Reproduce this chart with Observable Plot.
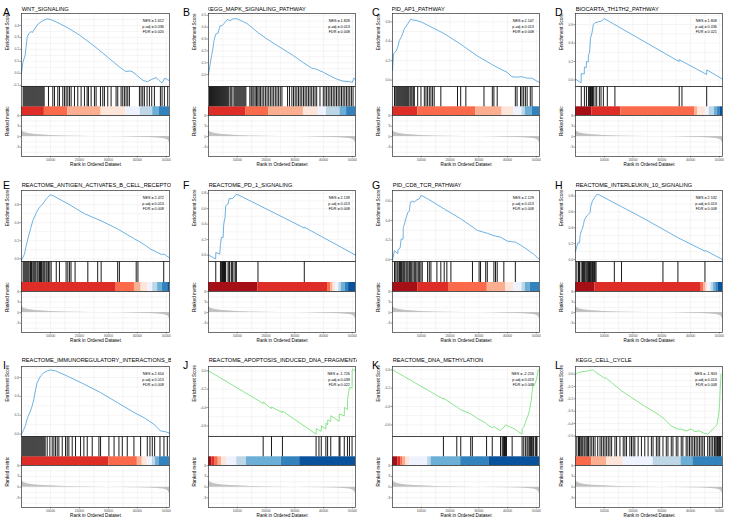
<!DOCTYPE html>
<html>
<head>
<meta charset="utf-8">
<script src="https://cdn.jsdelivr.net/npm/d3@7"></script>
<script src="https://cdn.jsdelivr.net/npm/@observablehq/plot@0.6"></script>
<style>
html,body{margin:0;padding:0;background:#fff;}
#root{position:relative;width:729px;height:523px;overflow:hidden;background:#fff;font-family:"Liberation Sans",Arial,Helvetica,sans-serif;}
.letter{position:absolute;font-size:10.5px;line-height:10.5px;color:#000;}
.ttl{position:absolute;height:8px;overflow:hidden;font-size:5.7px;line-height:8px;white-space:nowrap;color:#000;}
</style>
</head>
<body>
<div id="root"></div>
<script>
// ---------------- DATA ----------------
const letters = ["A","B","C","D","E","F","G","H","I","J","K","L"];
const titles = ["WNT_SIGNALING","KEGG_MAPK_SIGNALING_PATHWAY","PID_AP1_PATHWAY","BIOCARTA_TH1TH2_PATHWAY",
  "REACTOME_ANTIGEN_ACTIVATES_B_CELL_RECEPTOR","REACTOME_PD_1_SIGNALING","PID_CD8_TCR_PATHWAY","REACTOME_INTERLEUKIN_10_SIGNALING",
  "REACTOME_IMMUNOREGULATORY_INTERACTIONS_BE","REACTOME_APOPTOSIS_INDUCED_DNA_FRAGMENTA","REACTOME_DNA_METHYLATION","KEGG_CELL_CYCLE"];
const nes  = ["1.612","1.828","2.147","1.808","2.472","2.139","2.129","2.532","2.654","-1.726","-2.216","-1.903"];
const padj = ["0.036","0.013","0.013","0.036","0.013","0.013","0.013","0.013","0.013","0.039","0.013","0.013"];
const fdr  = ["0.020","0.008","0.008","0.021","0.008","0.008","0.008","0.008","0.008","0.022","0.008","0.008"];

const rankTicks = [10000, 20000, 30000, 40000, 50000];
const rankDomain = [0, 51100];
const metricTicks = [-3, 0, 3, 6];
const metricDomain = [-5.7, 6.05];

const esTicks = [
  [-0.1,0,0.1,0.2,0.3,0.4],[0,0.1,0.2,0.3,0.4,0.5],[0,0.2,0.4,0.6],[0,0.2,0.4,0.6],
  [0,0.2,0.4,0.6],[0,0.2,0.4,0.6,0.8],[0,0.2,0.4,0.6],[0,0.2,0.4,0.6,0.8],
  [0,0.2,0.4,0.6],[-0.6,-0.4,-0.2,0],[-0.6,-0.4,-0.2,0],[-0.5,-0.4,-0.3,-0.2,-0.1,0]
];
const esDomains = [
  [-0.11,0.5],[-0.1,0.515],[-0.066,0.686],[-0.07,0.72],
  [-0.03,0.756],[-0.083,0.835],[-0.02,0.71],[-0.025,0.87],
  [-0.025,0.716],[-0.716,0.047],[-0.727,0.036],[-0.505,0.062]
];

// ranked list metric (shared by all panels): [rank, metric]
const metric = [[0,2.0],[300,1.6],[1000,1.2],[2000,0.95],[3500,0.75],[5000,0.6],[7500,0.45],[10000,0.35],[15000,0.2],[20000,0.12],[25000,0.05],[30000,0.0],[35000,-0.07],[40000,-0.15],[44000,-0.25],[47000,-0.38],[49000,-0.55],[50000,-0.75],[50600,-1.0],[50900,-1.4],[51100,-1.8]];

// running enrichment score: [rank, ES]
const esA = [[0,0],[460,0.09],[1260,0.15],[1950,0.30],[2500,0.33],[3330,0.35],[3700,0.34],[4480,0.37],[5630,0.41],[7360,0.44],[8850,0.455],[10000,0.45],[12000,0.43],[16000,0.38],[20000,0.32],[25000,0.23],[30000,0.13],[34000,0.05],[36000,0.015],[37500,0.02],[38500,0.01],[40000,-0.02],[42000,-0.06],[43500,-0.07],[45000,-0.05],[46500,-0.035],[47500,-0.06],[48500,-0.08],[49500,-0.04],[50500,-0.055],[51100,-0.06]];
const esB = [[0,0],[580,0.09],[1380,0.2],[1950,0.29],[2500,0.34],[3300,0.35],[4000,0.41],[4830,0.415],[5400,0.43],[6550,0.465],[7470,0.455],[8500,0.47],[10000,0.47],[13400,0.43],[16900,0.36],[20300,0.30],[24900,0.23],[29500,0.16],[33000,0.10],[35900,0.055],[37600,0.045],[39900,0.02],[42200,-0.01],[44500,-0.037],[46800,-0.055],[49100,-0.06],[50000,-0.065],[50500,-0.03],[51100,-0.04]];
const esC = [[0,0.1],[350,0.27],[1270,0.30],[1840,0.34],[2400,0.41],[3000,0.44],[3560,0.48],[4140,0.53],[5300,0.58],[6440,0.63],[7000,0.62],[8160,0.615],[9900,0.60],[17900,0.48],[23700,0.37],[29400,0.25],[35200,0.15],[39800,0.08],[41500,0.035],[43200,0.03],[45000,0.035],[46700,0.02],[48400,0.02],[50200,-0.01],[51100,-0.025]];
const esD = [[0,0.01],[1960,-0.03],[2000,0.07],[3050,0.065],[3100,0.14],[3750,0.135],[3800,0.2],[4450,0.195],[4500,0.27],[4900,0.3],[5200,0.45],[5650,0.5],[5900,0.54],[6200,0.6],[6800,0.62],[7950,0.63],[9100,0.64],[10000,0.665],[36000,0.2],[36050,0.22],[45600,0.06],[45650,0.11],[51100,0.01]];
const esE = [[0,-0.015],[1000,0.05],[1600,0.14],[2200,0.22],[3100,0.33],[3900,0.42],[5100,0.51],[6200,0.57],[7400,0.61],[8500,0.66],[10000,0.71],[10800,0.70],[16000,0.61],[21700,0.50],[27500,0.42],[33200,0.33],[39000,0.22],[41300,0.18],[44700,0.105],[48200,0.05],[49300,0.05],[51100,0.01]];
const esF = [[0,0],[2500,-0.05],[2550,0.035],[3900,0.012],[4150,0.14],[4500,0.23],[5070,0.225],[5300,0.40],[5760,0.49],[6000,0.64],[6800,0.66],[7140,0.73],[8300,0.73],[8870,0.75],[9450,0.78],[10250,0.78],[33300,0.35],[33350,0.36],[51100,0.0]];
const esG = [[0,0],[690,0.09],[1270,0.076],[1840,0.06],[1900,0.10],[2650,0.12],[3000,0.21],[3690,0.21],[3750,0.33],[4150,0.365],[4720,0.43],[5300,0.48],[5860,0.5],[6220,0.59],[7030,0.6],[7600,0.59],[8180,0.61],[9330,0.625],[9900,0.66],[12200,0.625],[17970,0.52],[23700,0.42],[29500,0.30],[32950,0.27],[35250,0.245],[37560,0.23],[39860,0.19],[42170,0.18],[42700,0.18],[44470,0.15],[46770,0.105],[49080,0.055],[51100,0.0]];
const esH = [[0,0.1],[800,0.21],[1400,0.21],[1600,0.3],[2000,0.36],[2400,0.39],[2760,0.44],[3100,0.5],[3900,0.55],[4500,0.57],[5070,0.59],[5300,0.67],[5900,0.74],[6600,0.78],[7400,0.82],[7950,0.82],[24100,0.51],[35600,0.275],[45000,0.105],[45100,0.115],[51100,0.0]];
const esI = [[0,0],[800,0.05],[1380,0.09],[1730,0.14],[2300,0.19],[3100,0.245],[3690,0.3],[4260,0.37],[4840,0.47],[5420,0.545],[6570,0.615],[7720,0.65],[8870,0.67],[10000,0.68],[11750,0.67],[15780,0.615],[21540,0.53],[27300,0.44],[33060,0.335],[38800,0.23],[42300,0.175],[45700,0.105],[48000,0.035],[49800,0.025],[51100,0.01]];
const esJ = [[0,0],[19000,-0.355],[19050,-0.34],[21300,-0.40],[21900,-0.41],[21950,-0.395],[25700,-0.455],[25750,-0.44],[37400,-0.69],[37450,-0.63],[39200,-0.66],[39250,-0.6],[40800,-0.635],[40850,-0.57],[41400,-0.59],[41450,-0.535],[42500,-0.55],[42550,-0.49],[45400,-0.55],[45450,-0.47],[47200,-0.49],[47250,-0.40],[48300,-0.42],[48350,-0.31],[49000,-0.18],[49900,-0.19],[49950,0.0],[50100,0.02],[51100,0.0]];
const esK = [[0,0],[17700,-0.32],[17750,-0.31],[22600,-0.41],[23700,-0.435],[27200,-0.48],[29500,-0.53],[32400,-0.58],[33500,-0.61],[34700,-0.63],[35300,-0.62],[36500,-0.645],[37500,-0.66],[38600,-0.63],[39300,-0.60],[39900,-0.61],[40500,-0.62],[42200,-0.64],[43300,-0.665],[44500,-0.69],[45000,-0.70],[45100,-0.64],[45700,-0.62],[46400,-0.555],[47100,-0.50],[47600,-0.445],[48200,-0.34],[48500,-0.25],[48800,-0.175],[49300,-0.17],[49700,-0.14],[50200,-0.085],[50600,-0.01],[50800,0.0],[51100,0.0]];
const esL = [[0,0.0],[1040,0.013],[2200,0.02],[3340,0.022],[4500,0.027],[5650,0.035],[6200,0.032],[6800,0.02],[8530,-0.008],[9680,-0.027],[10800,-0.035],[12560,-0.068],[16000,-0.135],[19500,-0.19],[24100,-0.26],[28700,-0.325],[31000,-0.365],[33300,-0.42],[35600,-0.445],[36700,-0.445],[38500,-0.46],[40200,-0.445],[41400,-0.465],[43100,-0.46],[44800,-0.48],[46000,-0.485],[47100,-0.46],[48300,-0.43],[48800,-0.42],[49100,-0.415],[49400,-0.38],[49800,-0.325],[50100,-0.23],[50300,-0.12],[50600,0.0]];

// gene-set hit ranks
const hitsA = [575,920,1265,1610,1955,2300,2645,2990,3335,3680,4025,4370,4715,5060,5405,5750,6095,6440,6785,7130,7475,7820,9315,10810,11385,12535,13110,14260,14835,15410,15985,16560,17135,18285,19435,20585,21735,22655,23115,24035,25185,25760,27255,28060,28635,29785,30935,32660,33235,34385,34960,35535,36110,36685,37260,40710,41285,41860,42435,43355,44160,44965,45885,47955,48530,49335,50485];
const hitsB = [345,690,1035,1380,1725,2070,2415,2760,3105,3450,3795,4140,4485,4830,5175,5520,5865,6210,6555,6900,7475,7820,8165,8855,9200,9545,9890,10235,10580,10925,11270,11615,11960,12305,12650,12995,14375,14835,15180,15755,16215,16675,17135,17595,18055,18630,19205,19780,20355,20930,21505,22080,22655,23230,23805,24380,24955,25530,27485,28175,28980,29555,30130,30705,31280,31855,32430,33005,33580,34155,34730,35305,35880,36455,37030,37605,38755,39905,40480,41055,41630,42205,42780,43355,43930,44505,45080,45655,46230,46805,47380,47955,48530,49105,49680,50255];
const hitsC = [690,1150,1495,1840,2185,2530,2875,3220,3565,3910,4255,4600,4945,5290,5635,6095,6440,6785,7245,7590,8760,9900,11060,11640,12200,12800,13360,13940,14500,16800,22600,23700,25500,31800,34700,35250,36400,42700,43300,44500,45000,45600,46200,46800,47900,48500];
const hitsD = [2000,3100,3800,4500,4900,5200,5410,5650,5900,6200,6800,7370,8290,8870,9680,11060,13700,36050,37000,45600];
const hitsE = [575,920,1265,1610,1955,2300,2645,3105,3450,3910,4255,4600,4945,5405,5750,6210,6555,6900,7360,7705,8050,8510,8855,9315,9775,10235,12000,13100,15400,16000,16600,17100,18500,22900,26300,27500,33200,33800,39600,40200,49100];
const hitsF = [2530,4150,4490,4840,5070,5300,5410,5650,5760,5990,6800,7140,7370,7950,8300,8870,9450,9680,17200,33300];
const hitsG = [690,1150,1610,1955,2415,2760,3105,3565,3910,4255,4715,5060,5405,5865,6210,6670,7130,7590,8050,8510,8970,9430,9890,10350,12200,12800,13360,15440,16800,17970,18900,20300,27800,30100,30600,32400,32950,35250,35800,36400,38700,42700];
const hitsH = [460,1040,1380,1960,2420,2760,3110,3570,3920,4260,4490,4840,5070,5300,5650,5880,6220,6570,6800,7140,13500,16000,30400,35600,45000];
const hitsI = [230,575,920,1265,1610,1955,2300,2645,2990,3335,3680,4025,4370,4715,5060,5405,5750,6095,6440,6785,7130,7475,7820,8165,8870,9790,10600,11180,11750,12330,12900,14060,15200,15780,16360,17510,18660,20390,21540,22700,24420,26730,27300,30180,31960,33640,34800,36520,38820,41130,43430,44350,45160,45970,47810,49190,50350];
const hitsJ = [19000,21900,25700,37400,38400,39200,40800,41400,42500,45400,45700,47200,48300,49000,49900];
const hitsK = [17700,22350,23730,27190,27760,32700,34680,37550,38130,38480,38710,38940,39290,39630,41590,45050,45620,46200,46770,47120,47580,47930,48270,48500,48850,49080,49650,50000,50230];
const hitsL = [460,1040,1380,1840,2190,2530,3000,3340,3920,4260,4490,5070,5650,6220,6800,7720,8530,9100,9680,10250,10830,11400,11980,12560,13710,14290,15440,16590,17170,17740,18890,19470,20040,20620,21770,22920,24080,25230,26380,26960,28110,28690,29260,30410,31560,32140,33290,33870,35020,35600,36750,37320,38480,39050,39630,40200,40780,41360,41930,42510,43080,43660,44240,44810,45960,46540,47120,47690,48270,48500,48850,49190,49420,49650,50000,50230,50460];

// colour band segments: [startRank, endRank, level] (level 1 = darkest blue ... 10 = darkest red)
const bandA = [[0,7900,9],[7900,16000,8],[16000,27500,7],[27500,36100,6],[36100,41000,5],[41000,45300,4],[45300,47600,3],[47600,51100,2]];
const bandB = [[0,12900,9],[12900,20900,8],[20900,33000,7],[33000,38200,6],[38200,41000,5],[41000,45700,4],[45700,48000,3],[48000,51100,2]];
const bandC = [[0,8800,9],[8800,28900,8],[28900,38100,7],[38100,42200,6],[42200,45000,5],[45000,46200,4],[46200,48500,3],[48500,51100,2]];
const bandD = [[0,5650,10],[5650,15800,9],[15800,41400,8],[41400,42500,7],[42500,45400,6],[45400,46500,5],[46500,48300,4],[48300,49400,3],[49400,50200,2],[50200,51100,1]];
const bandE = [[0,32700,9],[32700,39000,8],[39000,41300,7],[41300,43600,6],[43600,45300,5],[45300,47000,4],[47000,48700,3],[48700,50500,2],[50500,51100,1]];
const bandF = [[0,17200,10],[17200,41400,9],[41400,42500,8],[42500,43300,7],[43300,44200,6],[44200,45300,5],[45300,46200,4],[46200,47600,3],[47600,48700,2],[48700,51100,1]];
const bandG = [[0,8760,10],[8760,19700,9],[19700,32950,8],[32950,39300,7],[39300,42170,6],[42170,45000,5],[45000,46200,4],[46200,47900,3],[47900,51100,2]];
const bandH = [[0,6800,10],[6800,43700,9],[43700,44600,8],[44600,45400,7],[45400,46000,6],[46000,47100,5],[47100,48000,4],[48000,48800,3],[48800,49600,2],[49600,51100,1]];
const bandI = [[0,30200,9],[30200,40000,8],[40000,41700,7],[41700,43400,6],[43400,45200,5],[45200,46300,4],[46300,47500,3],[47500,51100,2]];
const bandJ = [[0,1150,10],[1150,2300,9],[2300,3400,8],[3400,4600,7],[4600,6300,6],[6300,9800,5],[9800,13200,4],[13200,25300,3],[25300,31700,2],[31700,51100,1]];
const bandK = [[0,1840,10],[1840,2900,9],[2900,3500,8],[3500,4700,7],[4700,5900,6],[5900,12200,5],[12200,13400,4],[13400,23700,3],[23700,33500,2],[33500,51100,1]];
const bandL = [[0,5650,8],[5650,10800,7],[10800,16600,6],[16600,27000,5],[27000,36700,4],[36700,40800,3],[40800,51100,2]];

// ---------------- STYLE / LAYOUT ----------------
const palette = {1:"#08519C",2:"#3182BD",3:"#6BAED6",4:"#BDD7E7",5:"#EFF3FF",6:"#FEE5D9",7:"#FCAE91",8:"#FB6A4A",9:"#DE2D26",10:"#A50F15"};
const posColor = "#4A9FDA", negColor = "#6FE06F";
const esAll = [esA,esB,esC,esD,esE,esF,esG,esH,esI,esJ,esK,esL];
const hitsAll = [hitsA,hitsB,hitsC,hitsD,hitsE,hitsF,hitsG,hitsH,hitsI,hitsJ,hitsK,hitsL];
const bandAll = [bandA,bandB,bandC,bandD,bandE,bandF,bandG,bandH,bandI,bandJ,bandK,bandL];

const colLeft = [21, 208, 392, 575], colW = [148, 147, 147, 147];
const rowY = [[13,86,115,156],[190,261,291,332],[366,436,465,507]];
const letterX = [3, 183, 372, 555], letterBase = [15.7, 189, 369], titleBase = [10.7, 187.3, 362];
const titleShift = [0,2.5,1.2,0,0,0,0,0,0,0,0,0];
const ML = 22, FONT = "Liberation Sans, Arial, Helvetica, sans-serif";
const TICK = 3.3, AXT = 4.6, GRID = "#EBEBEB";
const root = document.getElementById("root");
const svgStyle = {fontFamily: FONT, background: "transparent", overflow: "visible"};

function place(el, left, top) {
  el.style.position = "absolute";
  el.style.left = left + "px";
  el.style.top = top + "px";
  root.appendChild(el);
}
function minorOf(ticks, dom) {
  const s = ticks[1] - ticks[0], out = [];
  for (let k = -1; k < ticks.length + 1; k++) {
    const v = ticks[0] + s * k + s / 2;
    if (v > dom[0] && v < dom[1]) out.push(v);
  }
  return out;
}
const minorX = rankTicks.map(t => t - (rankTicks[1] - rankTicks[0]) / 2);
const yAxisOpts = {tickSize: 1.5, tickPadding: 1, fontSize: TICK, stroke: "#333", strokeWidth: 0.5, fill: "#4d4d4d", label: null};

for (let i = 0; i < 12; i++) {
  const r = Math.floor(i / 4), c = i % 4;
  const [t0, t1, t2, t3] = rowY[r];
  const w = colW[c], L = colLeft[c];
  const dom = esDomains[i], ticks = esTicks[i];
  const neg = nes[i].startsWith("-");

  // letter + title
  const lt = document.createElement("div");
  lt.className = "letter"; lt.textContent = letters[i];
  lt.style.left = letterX[c] + "px"; lt.style.top = (letterBase[r] - 8.9) + "px";
  root.appendChild(lt);
  const tt = document.createElement("div");
  tt.className = "ttl";
  tt.textContent = titles[i];
  tt.style.left = L + "px"; tt.style.top = (titleBase[r] - 6) + "px"; tt.style.width = (w + 2) + "px";
  tt.style.textIndent = (0.7 - titleShift[i]) + "px";
  root.appendChild(tt);

  // enrichment score panel
  const es = Plot.plot({
    width: ML + w + 1, height: (t1 - t0) + 2,
    marginLeft: ML, marginRight: 1, marginTop: 1, marginBottom: 1,
    style: svgStyle,
    x: {domain: rankDomain, axis: null},
    y: {domain: dom, axis: null},
    marks: [
      Plot.gridX(minorX.concat(rankTicks), {stroke: GRID, strokeOpacity: 1, strokeWidth: 0.5}),
      Plot.gridY(minorOf(ticks, dom).concat(ticks), {stroke: GRID, strokeOpacity: 1, strokeWidth: 0.5}),
      Plot.line(esAll[i], {x: d => d[0], y: d => d[1], stroke: neg ? negColor : posColor, strokeWidth: 0.8}),
      Plot.axisY(ticks, {...yAxisOpts, tickFormat: d => d.toFixed(1)}),
      Plot.text(["Enrichment Score"], {frameAnchor: "left", dx: -13.7, rotate: -90, fontSize: AXT}),
      Plot.text([`NES = ${nes[i]}\np.adj = ${padj[i]}\nFDR = ${fdr[i]}`], {frameAnchor: "top-right", textAnchor: "end", lineAnchor: "top", dx: -5.7, dy: 4.5, fontSize: 3.7, lineHeight: 1.54}),
      Plot.frame({stroke: "#333", strokeWidth: 0.7})
    ]
  });
  place(es, L - ML, t0 - 1);

  // hits + colour band panel
  const hp = Plot.plot({
    width: w + 2, height: (t2 - t1) + 2,
    marginLeft: 1, marginRight: 1, marginTop: 1, marginBottom: 1,
    style: svgStyle,
    x: {domain: rankDomain, axis: null},
    y: {domain: [0, 1], axis: null},
    color: {type: "identity"},
    marks: [
      Plot.rect(bandAll[i], {x1: d => d[0], x2: d => d[1], y1: 0, y2: 0.3, fill: d => palette[d[2]]}),
      Plot.ruleX(hitsAll[i], {x: d => d, y1: 0.3, y2: 1, stroke: "#000", strokeWidth: 0.9}),
      Plot.frame({stroke: "#333", strokeWidth: 0.7})
    ]
  });
  place(hp, L - 1, t1 - 1);

  // ranked metric panel
  const rp = Plot.plot({
    width: ML + w + 1, height: (t3 - t2) + 1 + 15,
    marginLeft: ML, marginRight: 1, marginTop: 1, marginBottom: 15,
    style: svgStyle,
    x: {domain: rankDomain, axis: null},
    y: {domain: metricDomain, axis: null},
    marks: [
      Plot.gridX(minorX.concat(rankTicks), {stroke: GRID, strokeOpacity: 1, strokeWidth: 0.5}),
      Plot.gridY(minorOf(metricTicks, metricDomain).concat(metricTicks), {stroke: GRID, strokeOpacity: 1, strokeWidth: 0.5}),
      Plot.areaY(metric, {x: d => d[0], y: d => d[1], fill: "#c2c2c2", curve: "linear"}),
      Plot.axisY(metricTicks, {...yAxisOpts, tickFormat: d => String(d)}),
      Plot.axisX(rankTicks, {tickSize: 1.5, tickPadding: 1, fontSize: TICK, stroke: "#333", strokeWidth: 0.5, fill: "#4d4d4d", label: null, tickFormat: d => String(d)}),
      Plot.text(["Ranked metric"], {frameAnchor: "left", dx: -13.7, rotate: -90, fontSize: AXT}),
      Plot.text(["Rank in Ordered Dataset"], {frameAnchor: "bottom", dy: 9.5, fontSize: AXT}),
      Plot.frame({stroke: "#333", strokeWidth: 0.7})
    ]
  });
  place(rp, L - ML, t2 - 1);
}
</script>
</body>
</html>
